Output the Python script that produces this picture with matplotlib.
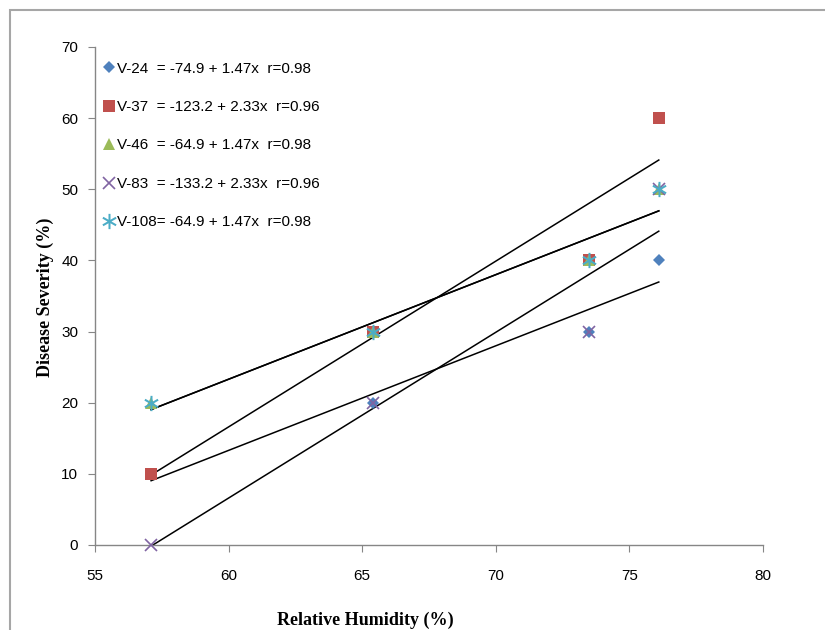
import numpy as np
import matplotlib
matplotlib.use("Agg")
import matplotlib.pyplot as plt
from matplotlib.patches import Rectangle

# Data
humidity = [57.1, 65.4, 73.5, 76.1]
varieties = ["V-24", "V-37", "V-46", "V-83", "V-108"]
severity = {
    "V-24": [10, 20, 30, 40],
    "V-37": [10, 30, 40, 60],
    "V-46": [20, 30, 40, 50],
    "V-83": [0, 20, 30, 50],
    "V-108": [20, 30, 40, 50],
}
intercepts = [-74.9, -123.2, -64.9, -133.2, -64.9]
slopes = [1.47, 2.33, 1.47, 2.33, 1.47]
r_values = [0.98, 0.96, 0.98, 0.96, 0.98]
legend_labels = [
    "V-24  = -74.9 + 1.47x  r=0.98",
    "V-37  = -123.2 + 2.33x  r=0.96",
    "V-46  = -64.9 + 1.47x  r=0.98",
    "V-83  = -133.2 + 2.33x  r=0.96",
    "V-108= -64.9 + 1.47x  r=0.98",
]

markers = ["D", "s", "^", "x", "$\u2217$"]
colors = ["#4F81BD", "#C0504D", "#9BBB59", "#8064A2", "#4BACC6"]
sizes = [6.5, 8.5, 8, 9, 11]

plt.rcParams["font.family"] = ["Liberation Sans", "DejaVu Sans"]

fig = plt.figure(figsize=(8.25, 6.3), dpi=100)
# outer chart frame
fig.patches.append(Rectangle((10 / 825, -0.1), 1.2, 1 - 10 / 630 + 0.1,
                             transform=fig.transFigure, fill=False,
                             edgecolor="#A6A6A6", linewidth=1.5))

ax = fig.add_axes([95 / 825, 85 / 630, 668 / 825, 498 / 630])

xs = np.array([humidity[0], humidity[-1]])
for i, name in enumerate(varieties):
    ax.plot(xs, intercepts[i] + slopes[i] * xs, color="black", lw=1.1,
            zorder=2)

for i, name in enumerate(varieties):
    kw = dict(markeredgewidth=0)
    if markers[i] == "x":
        kw = dict(markeredgewidth=1.2)
    ax.plot(humidity, severity[name], linestyle="none", marker=markers[i],
            color=colors[i], markersize=sizes[i], label=legend_labels[i],
            zorder=3, clip_on=False, **kw)

ax.set_xlim(55, 80)
ax.set_ylim(0, 70)
ax.set_xticks(range(55, 81, 5))
ax.set_yticks(range(0, 71, 10))
ax.tick_params(axis="both", colors="#868686", labelcolor="black",
               labelsize=11, length=5, direction="out")
ax.tick_params(axis="x", pad=12)
ax.tick_params(axis="y", pad=7)
for s in ["top", "right"]:
    ax.spines[s].set_visible(False)
for s in ["left", "bottom"]:
    ax.spines[s].set_color("#868686")
    ax.spines[s].set_linewidth(1.0)

ax.legend(loc="upper left", bbox_to_anchor=(-0.012, 1.0), frameon=False,
          fontsize=11, handletextpad=0.0, labelspacing=1.6,
          handlelength=1.0, borderaxespad=0.3, borderpad=0.65)

fig.text(365 / 825, 1 - 620 / 630, "Relative Humidity (%)", ha="center",
         va="center", fontsize=13, fontweight="bold",
         family="Liberation Serif")
fig.text(45 / 825, 1 - 297 / 630, "Disease Severity (%)", ha="center",
         va="center", rotation=90, fontsize=13, fontweight="bold",
         family="Liberation Serif")

fig.savefig("out.png", dpi=100)
